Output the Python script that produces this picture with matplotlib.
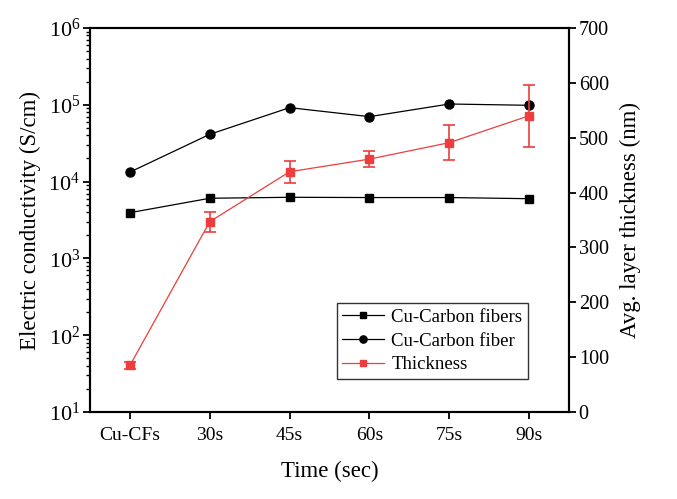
import numpy as np
import matplotlib
matplotlib.use('Agg')
import matplotlib.pyplot as plt
from matplotlib.ticker import LogLocator, LogFormatterMathtext, NullFormatter

plt.rcParams['font.family'] = 'Liberation Serif'
plt.rcParams['mathtext.fontset'] = 'stix'

categories = ['Cu-CFs', '30s', '45s', '60s', '75s', '90s']
fibers = [3940, 6070, 6250, 6200, 6200, 5990]
fiber = [13300, 41300, 91800, 70100, 102400, 98500]
thickness = [85, 347, 438, 461, 491, 540]
thickness_err = [6, 18, 20, 15, 32, 57]

red = '#ee3d3d'
x = np.arange(len(categories))

fig = plt.figure(figsize=(6.77, 4.99), dpi=100)
ax = fig.add_axes([0.133, 0.1743, 0.7075, 0.7696])
ax2 = ax.twinx()

l1, = ax.plot(x, fibers, '-s', color='black', lw=0.9, ms=5.5, label='Cu-Carbon fibers')
l2, = ax.plot(x, fiber, '-o', color='black', lw=0.9, ms=6.5, label='Cu-Carbon fiber')
l3 = ax2.errorbar(x, thickness, yerr=thickness_err, fmt='-s', color=red, lw=0.9, ms=5.5,
                  capsize=4, elinewidth=1.2, capthick=1.2, label='Thickness')

ax.set_yscale('log')
ax.set_ylim(10, 1e6)
ax.yaxis.set_major_locator(LogLocator(base=10, numticks=10))
ax.yaxis.set_minor_locator(LogLocator(base=10, subs=np.arange(2, 10), numticks=10))
ax.yaxis.set_major_formatter(LogFormatterMathtext())
ax.yaxis.set_minor_formatter(NullFormatter())
ax.set_xlim(-0.5, 5.5)
ax.set_xticks(x)
ax.set_xticklabels(categories)

ax2.set_ylim(0, 700)
ax2.set_yticks(np.arange(0, 701, 100))

for a in (ax, ax2):
    for s in a.spines.values():
        s.set_linewidth(1.5)
    a.tick_params(which='major', direction='out', length=5, width=1.3, labelsize=14)
    a.tick_params(which='minor', direction='out', length=3, width=1.0)
ax.tick_params(axis='y', which='both', right=False)
ax.tick_params(axis='y', which='major', labelsize=16, pad=2)
ax.tick_params(axis='x', which='minor', bottom=False)
ax.tick_params(axis='x', which='major', pad=6)
ax2.tick_params(axis='y', which='major', labelsize=14.5, pad=2)

ax.set_xlabel('Time (sec)', fontsize=16.5, labelpad=12)
ax.set_ylabel('Electric conductivity (S/cm)', fontsize=16.5, labelpad=5)
ax2.set_ylabel('Avg. layer thickness (nm)', fontsize=16.5, labelpad=8)

leg = ax2.legend([l1, l2, l3[0]], ['Cu-Carbon fibers', 'Cu-Carbon fiber', 'Thickness'],
                 loc='lower right', bbox_to_anchor=(0.914, 0.086), borderaxespad=0,
                 fontsize=13.5, frameon=True, fancybox=False, edgecolor='black',
                 handlelength=2.2, handletextpad=0.4, borderpad=0.3, labelspacing=0.35,
                 markerscale=0.8)
leg.get_frame().set_linewidth(1.0)

fig.savefig('out.png', dpi=100)
